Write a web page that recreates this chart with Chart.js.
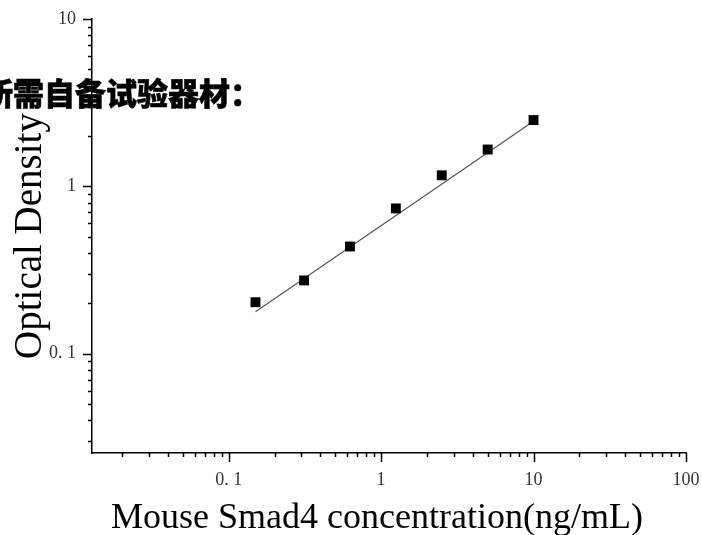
<!DOCTYPE html>
<html>
<head>
<meta charset="utf-8">
<script src="https://cdn.jsdelivr.net/npm/chart.js@4.4.0/dist/chart.umd.min.js"></script>
<style>
  html, body { margin: 0; padding: 0; background: #fff; overflow: hidden; }
  #wrap { position: relative; width: 702px; height: 535px; }
  #note {
    position: absolute; left: -18px; top: 76px;
    font-family: "Noto Sans CJK SC", sans-serif; font-weight: 900;
    font-size: 31px; line-height: 1; color: #000; white-space: nowrap;
    -webkit-text-stroke: 0.6px #000;
  }
</style>
</head>
<body>
<div id="wrap">
  <canvas id="chartSmad4" width="702" height="535"></canvas>
  <div id="note">所需自备试验器材：</div>
</div>
<script>
var concentrations = [0.15, 0.3125, 0.625, 1.25, 2.5, 5, 10];
var odValues = [0.203, 0.274, 0.437, 0.738, 1.164, 1.66, 2.49];
var fitX = [0.15, 10];
var fitY = [0.178, 2.45];
var xTickValues = [0.1, 1, 10, 100];
var xTickLabels = ['0. 1', '1', '10', '100'];
var yTickValues = [0.1, 1, 10];
var yTickLabels = ['0. 1', '1', '10'];
var xTitle = 'Mouse Smad4 concentration(ng/mL)';

function toPoints(xs, ys) {
  return xs.map(function (x, i) { return { x: x, y: ys[i] }; });
}

// origin-style outward ticks, long on decades, short on 2..9
var logTicks = {
  id: 'logTicks',
  afterDraw: function (chart) {
    var ctx = chart.ctx;
    var area = chart.chartArea;
    ctx.save();
    ctx.strokeStyle = '#000';
    ctx.lineWidth = 1.5;
    ['x', 'y'].forEach(function (id) {
      var s = chart.scales[id];
      var lo = Math.floor(Math.log10(s.min));
      var hi = Math.ceil(Math.log10(s.max));
      for (var d = lo; d <= hi; d++) {
        for (var m = 1; m <= 9; m++) {
          var v = m * Math.pow(10, d);
          if (v < s.min * 0.999 || v > s.max * 1.001) continue;
          var len = m === 1 ? 9 : 4;
          var p = Math.round(s.getPixelForValue(v)) + 0.5;
          ctx.beginPath();
          if (id === 'x') {
            ctx.moveTo(p, area.bottom);
            ctx.lineTo(p, area.bottom + len);
          } else {
            ctx.moveTo(area.left, p);
            ctx.lineTo(area.left - len, p);
          }
          ctx.stroke();
        }
      }
    });
    // x title sits a bit left of the axis centre in the original
    ctx.fillStyle = '#000';
    ctx.font = '36px "Liberation Serif"';
    ctx.textAlign = 'center';
    ctx.textBaseline = 'alphabetic';
    ctx.fillText(xTitle, 377, 528);
    ctx.restore();
  }
};

function renderSmad4Chart() {
  var el = document.getElementById('chartSmad4');
  new Chart(el, {
    type: 'scatter',
    data: {
      datasets: [
        {
          data: toPoints(fitX, fitY),
          showLine: true,
          borderColor: '#555',
          borderWidth: 1.2,
          pointRadius: 0,
          order: 2
        },
        {
          data: toPoints(concentrations, odValues),
          pointStyle: 'rect',
          pointRadius: 7,
          pointBackgroundColor: '#000',
          pointBorderColor: '#000',
          pointBorderWidth: 0,
          order: 1
        }
      ]
    },
    options: {
      responsive: false,
      animation: false,
      layout: { padding: { top: 19, right: 16, left: 0, bottom: 0 } },
      plugins: {
        legend: { display: false },
        tooltip: { enabled: false }
      },
      scales: {
        x: {
          type: 'logarithmic',
          min: 0.0127,
          max: 100,
          afterFit: function (scale) {
            scale.height = 82;
            scale.paddingLeft = 0;
            scale.paddingRight = 0;
          },
          afterBuildTicks: function (scale) {
            scale.ticks = xTickValues.map(function (v) { return { value: v }; });
          },
          grid: { display: false, drawTicks: false },
          border: { display: true, color: '#000', width: 1.5 },
          ticks: {
            padding: 16,
            maxRotation: 0,
            color: '#333',
            font: { family: 'Liberation Serif', size: 18 },
            callback: function (v) {
              var i = xTickValues.indexOf(v);
              return i >= 0 ? xTickLabels[i] : '';
            }
          }
        },
        y: {
          type: 'logarithmic',
          min: 0.0255,
          max: 10,
          afterFit: function (scale) {
            scale.width = 92;
            scale.paddingTop = 0;
            scale.paddingBottom = 0;
          },
          afterBuildTicks: function (scale) {
            scale.ticks = yTickValues.map(function (v) { return { value: v }; });
          },
          grid: { display: false, drawTicks: false },
          border: { display: true, color: '#000', width: 1.5 },
          ticks: {
            padding: 16,
            color: '#333',
            font: { family: 'Liberation Serif', size: 18 },
            callback: function (v) {
              var i = yTickValues.indexOf(v);
              return i >= 0 ? yTickLabels[i] : '';
            }
          },
          title: {
            display: true,
            text: 'Optical Density',
            color: '#000',
            font: { family: 'Liberation Serif', size: 39 },
            padding: { top: 7, bottom: 0 }
          }
        }
      }
    },
    plugins: [logTicks]
  });
}

renderSmad4Chart();
</script>
</body>
</html>
